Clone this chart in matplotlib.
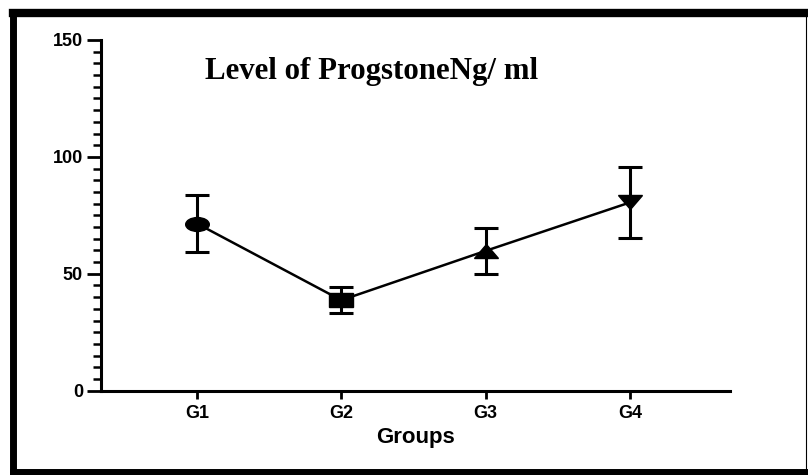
import numpy as np
import matplotlib
matplotlib.use("Agg")
import matplotlib.pyplot as plt
from matplotlib.markers import MarkerStyle
from matplotlib.transforms import Affine2D
from matplotlib.lines import Line2D

# datos
groups = ['G1', 'G2', 'G3', 'G4']
means = [71.5, 38.7, 59.8, 80.5]
errs = [12.0, 5.6, 9.8, 15.2]
markers = ['o', 's', '^', 'v']

x = np.arange(1, len(groups) + 1)

plt.rcParams['font.family'] = ['Liberation Sans', 'DejaVu Sans']
plt.rcParams['font.weight'] = 'bold'

fig = plt.figure(figsize=(8.08, 4.75), dpi=100)
ax = fig.add_axes([0.125, 0.1775, 0.7785, 0.7383])

# linea con barras de error
ax.errorbar(x, means, yerr=errs, color='black', lw=1.8, elinewidth=2.2,
            capsize=8.5, capthick=2.2, zorder=2)

# marcadores ensanchados (la imagen original esta estirada)
for xi, m, mk in zip(x, means, markers):
    st = MarkerStyle(mk, transform=Affine2D().scale(1.7, 1.0))
    ax.plot([xi], [m], marker=st, color='black', markersize=10, ls='none', zorder=3)

ax.set_xlim(0.335, 4.694)
ax.set_ylim(0, 150)
ax.set_xticks(x)
ax.set_xticklabels(groups)
ax.set_yticks([0, 50, 100, 150])
ax.set_yticks(np.arange(0, 151, 5), minor=True)

for s in ['top', 'right']:
    ax.spines[s].set_visible(False)
ax.spines['left'].set_linewidth(2.2)
ax.spines['bottom'].set_linewidth(2.2)
ax.spines['left'].set_bounds(0, 150)

ax.tick_params(axis='y', which='major', length=10, width=2, labelsize=13, pad=3)
ax.tick_params(axis='y', which='minor', length=6, width=1.8)
ax.tick_params(axis='x', which='major', length=6, width=2, labelsize=13, pad=4)
ax.tick_params(axis='x', which='minor', length=0)
for lab in ax.get_xticklabels() + ax.get_yticklabels():
    lab.set_fontweight('bold')

ax.set_xlabel('Groups', fontsize=16, fontweight='bold', labelpad=4)

fig.text(205 / 808, 1 - 79 / 475, 'Level of ProgstoneNg/ ml',
         family=['Liberation Serif', 'DejaVu Serif'], fontweight='bold',
         fontsize=22.2, va='baseline', ha='left')

# marco negro alrededor de la imagen
W, H = 808, 475
def fline(x0, y0, x1, y1, lw):
    fig.add_artist(Line2D([x0 / W, x1 / W], [1 - y0 / H, 1 - y1 / H],
                          transform=fig.transFigure, color='black', lw=lw))

fline(13, 13, 808, 13, 6)
fline(13, 13, 13, 475, 5)
fline(13, 472, 808, 472, 5)
fline(806, 13, 806, 472, 0.8)

fig.savefig('out.png', dpi=100)
